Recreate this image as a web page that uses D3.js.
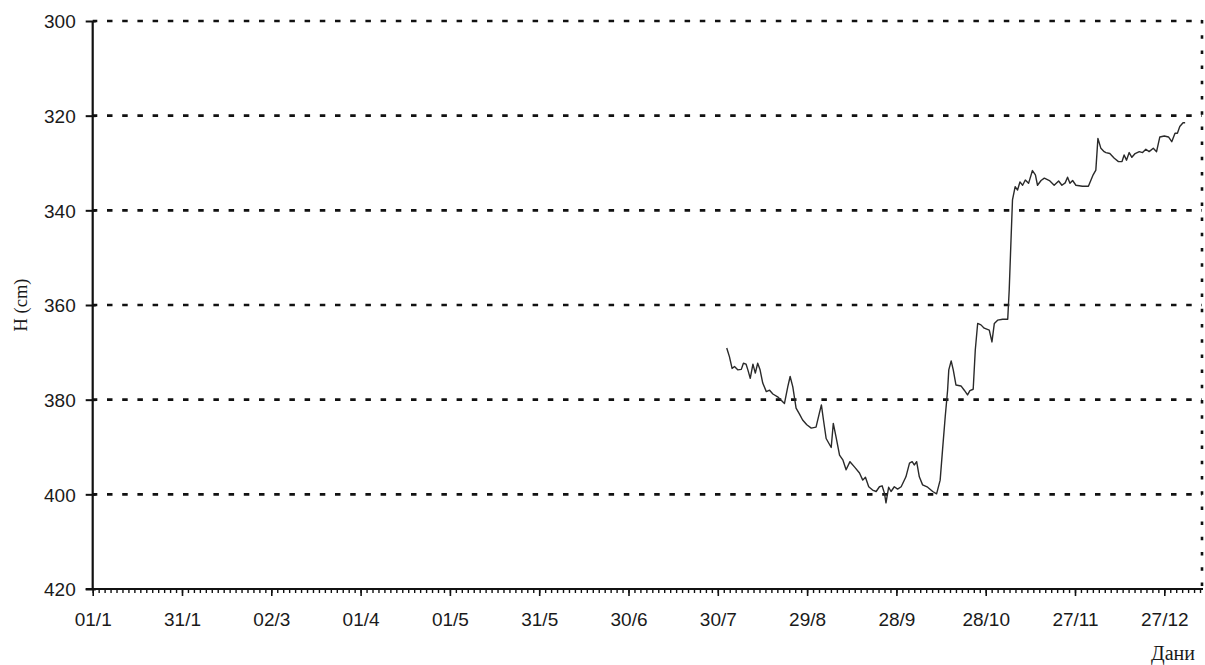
<!DOCTYPE html>
<html>
<head>
<meta charset="utf-8">
<script src="https://cdn.jsdelivr.net/npm/d3@7/dist/d3.min.js"></script>
<style>
  html, body { margin: 0; padding: 0; background: #fff; }
  svg { display: block; }
</style>
</head>
<body>
<svg id="chart" width="1205" height="665"></svg>
<script>
// ---- data (day of year from 01/1, water level H in cm) ----
const obsDay = [
  213.0, 213.9, 214.8, 215.6, 216.7, 217.9, 218.6, 219.5, 220.1, 220.9,
  221.8, 222.6, 223.4, 224.2, 225.1, 226.3, 227.4, 228.5, 230.1, 231.3,
  232.4, 233.5, 234.3, 235.2, 236.3, 237.4, 238.5, 239.9, 241.4, 243.0,
  244.1, 244.8, 245.5, 246.4, 248.1, 248.8, 249.7, 250.9, 252.0, 253.1,
  254.4, 255.9, 257.6, 258.7, 259.6, 260.7, 262.0, 263.2, 264.3, 265.2,
  266.0, 266.5, 267.4, 268.2, 269.3, 270.4, 271.6, 273.2, 274.4, 275.3,
  276.0, 276.8, 277.7, 278.8, 280.5, 282.2, 283.5, 284.7, 285.5, 286.4,
  287.2, 287.6, 288.4, 289.1, 290.0, 291.7, 292.8, 293.9, 294.7, 295.8,
  296.5, 297.3, 298.4, 299.5, 301.2, 302.1, 302.9, 304.0, 305.7, 307.4,
  307.9, 308.5, 309.0, 309.9, 310.7, 311.5, 312.4, 313.3, 314.4, 315.7,
  316.7, 317.4, 318.6, 319.7, 321.4, 323.0, 324.5, 325.6, 326.7, 327.5,
  328.3, 329.2, 330.3, 332.5, 334.5, 336.1, 337.0, 337.7, 338.7, 339.8,
  340.4, 341.7, 343.2, 344.6, 345.8, 346.5, 347.3, 348.2, 349.1, 350.2,
  351.6, 352.7, 353.8, 354.9, 356.3, 357.4, 358.5, 360.0, 361.4, 362.5,
  363.6, 364.4, 365.2, 366.3, 367.0
];
const waterLevel = [
  369.1, 370.9, 373.4, 373.0, 373.7, 373.6, 372.3, 372.5, 373.7, 375.5,
  372.5, 374.4, 372.3, 373.7, 376.5, 378.3, 378.0, 378.8, 379.4, 380.1,
  380.8, 377.3, 375.1, 377.3, 381.8, 383.0, 384.3, 385.3, 386.0, 385.8,
  382.9, 381.1, 384.3, 388.2, 390.1, 385.0, 387.8, 391.7, 392.7, 394.8,
  393.1, 394.2, 395.5, 397.0, 396.4, 398.4, 399.1, 399.4, 398.4, 398.2,
  399.8, 401.8, 398.5, 399.4, 398.4, 398.9, 398.4, 396.3, 393.4, 393.1,
  393.8, 393.1, 396.3, 398.0, 398.5, 399.4, 399.9, 397.0, 390.6, 383.6,
  378.0, 373.7, 371.8, 373.7, 376.9, 377.1, 378.0, 379.0, 378.1, 377.8,
  369.5, 363.9, 364.2, 364.9, 365.3, 367.8, 363.9, 363.2, 363.0, 363.0,
  356.8, 346.3, 337.8, 335.0, 335.7, 334.0, 334.7, 333.6, 334.3, 331.6,
  332.5, 334.7, 333.7, 333.2, 333.7, 334.7, 333.8, 334.7, 334.2, 333.0,
  334.3, 333.7, 334.7, 334.9, 334.9, 332.5, 331.5, 324.8, 326.9, 327.6,
  327.8, 328.0, 329.0, 329.7, 329.7, 328.3, 329.4, 327.8, 328.8, 328.0,
  327.6, 327.8, 327.1, 327.6, 326.9, 327.6, 324.5, 324.3, 324.5, 325.5,
  323.7, 323.7, 322.3, 321.5, 321.5
];
const xTickDays   = [0, 30, 60, 90, 120, 150, 180, 210, 240, 270, 300, 330, 360];
const xTickLabels = ["01/1", "31/1", "02/3", "01/4", "01/5", "31/5", "30/6",
                     "30/7", "29/8", "28/9", "28/10", "27/11", "27/12"];
const yTicks      = [300, 320, 340, 360, 380, 400, 420];
const yGridValues = [300, 320, 340, 360, 380, 400];
const yTitle = "H (cm)";
const xTitle = "Дани";

// ---- layout ----
const svg = d3.select("#chart");
const x0 = 92.7, x1 = 1203, yTop = 21, yBot = 589;
const x = d3.scaleLinear().domain([0, 373]).range([x0, x1]);
const y = d3.scaleLinear().domain([420, 300]).range([yBot, yTop]);

const sans = "'Liberation Sans', Arial, Helvetica, sans-serif";
const serif = "'Liberation Serif', 'Times New Roman', serif";

// gridlines (dashed)
svg.append("g").selectAll("line").data(yGridValues).join("line")
  .attr("x1", x0).attr("x2", x1 - 1)
  .attr("y1", d => y(d)).attr("y2", d => y(d))
  .attr("stroke", "#111").attr("stroke-width", 2.7)
  .attr("stroke-dasharray", "5.5,9.7").attr("stroke-dashoffset", 0.9);

// right border (dotted)
svg.append("line")
  .attr("x1", x1 - 1).attr("x2", x1 - 1)
  .attr("y1", yTop - 1).attr("y2", yBot)
  .attr("stroke", "#111").attr("stroke-width", 2.6)
  .attr("stroke-dasharray", "3.5,11.7");

// data line
const line = d3.line().x((d, i) => x(obsDay[i])).y(d => y(d)).curve(d3.curveLinear);
svg.append("path").datum(waterLevel)
  .attr("d", line)
  .attr("fill", "none").attr("stroke", "#2a2a2a").attr("stroke-width", 1.4)
  .attr("stroke-linejoin", "round");

// y axis
const yAxis = d3.axisLeft(y).tickValues(yTicks).tickSize(0).tickPadding(0).tickFormat(d3.format("d"));
const gy = svg.append("g").attr("transform", `translate(${x0},0)`).call(yAxis);
gy.select(".domain").remove();
gy.selectAll(".tick text").remove();
gy.selectAll(".tick").append("line")
  .attr("x1", -7).attr("x2", 3).attr("stroke", "#111").attr("stroke-width", 2);
gy.selectAll(".tick").append("text")
  .attr("x", -17).attr("dy", "0.36em")
  .attr("text-anchor", "end")
  .attr("fill", "#1a1a1a")
  .style("font-family", sans).style("font-size", "19px")
  .text(d => d3.format("d")(d));
svg.append("line").attr("x1", x0).attr("x2", x0).attr("y1", yTop).attr("y2", yBot + 1)
  .attr("stroke", "#111").attr("stroke-width", 2.2);

// x axis: minor ticks every 2 days, major every 30 days
const minor = d3.axisBottom(x).tickValues(d3.range(0, 373, 2)).tickSize(4).tickFormat("");
const gxm = svg.append("g").attr("transform", `translate(0,${yBot})`).call(minor);
gxm.select(".domain").remove();
gxm.selectAll(".tick line").attr("stroke", "#111").attr("stroke-width", 1.4);

const major = d3.axisBottom(x).tickValues(xTickDays).tickSize(7).tickPadding(0)
  .tickFormat((d, i) => xTickLabels[i]);
const gx = svg.append("g").attr("transform", `translate(0,${yBot})`).call(major);
gx.select(".domain").remove();
gx.selectAll(".tick line").attr("stroke", "#111").attr("stroke-width", 1.6);
gx.selectAll(".tick text")
  .attr("y", 37).attr("dy", 0)
  .attr("fill", "#1a1a1a")
  .style("font-family", sans).style("font-size", "19px");
svg.append("line").attr("x1", x0 - 7).attr("x2", x1).attr("y1", yBot).attr("y2", yBot)
  .attr("stroke", "#111").attr("stroke-width", 2.2);

// titles
svg.append("text")
  .attr("transform", `translate(27,${(y(352) + y(368)) / 2}) rotate(-90)`)
  .attr("text-anchor", "middle")
  .attr("fill", "#1a1a1a")
  .style("font-family", serif).style("font-size", "18.5px")
  .text(yTitle);
svg.append("text")
  .attr("x", 1195).attr("y", 660)
  .attr("text-anchor", "end")
  .attr("fill", "#1a1a1a")
  .style("font-family", serif).style("font-size", "20px")
  .text(xTitle);
</script>
</body>
</html>
